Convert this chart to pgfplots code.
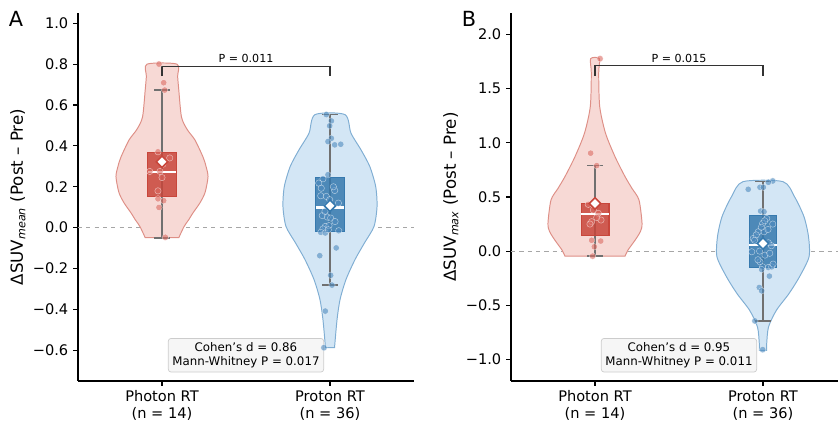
\documentclass[border=0pt]{standalone}
\usepackage{fontspec}
\setmainfont{DejaVu Sans}
\usepackage{pgfplots}
\pgfplotsset{compat=1.18}

\definecolor{phfill}{HTML}{F7D9D5}
\definecolor{phedge}{HTML}{DE8F86}
\definecolor{phbox}{HTML}{C8463B}
\definecolor{phpt}{HTML}{DB6B63}
\definecolor{prfill}{HTML}{D3E6F5}
\definecolor{predge}{HTML}{80AED3}
\definecolor{prbox}{HTML}{3679AE}
\definecolor{prpt}{HTML}{4F8BBF}
\definecolor{whiskc}{HTML}{707070}

\pgfplotsset{
  panel/.style={
    scale only axis, width=241.92pt, height=264.96pt, anchor=south west,
    xmin=-0.5, xmax=1.5,
    axis x line*=bottom, axis y line*=left,
    axis line style={line width=0.8pt},
    tick align=outside, major tick length=3.5pt,
    every tick/.style={black, line width=0.8pt},
    xtick={0,1},
    xticklabels={{Photon RT\\(n = 14)},{Proton RT\\(n = 36)}},
    xticklabel style={align=center, font=\fontsize{10.5}{12}\selectfont},
    yticklabel style={font=\fontsize{10.5}{12}\selectfont},
    ylabel style={font=\fontsize{12}{14}\selectfont, at={(axis description cs:-0.179,0.5)}, anchor=center},
    clip=false,
  },
  violin/.style={line width=0.7pt, smooth, tension=0.45},
  whisk/.style={whiskc, line width=1.2pt},
  pts/.style={only marks, mark=*, mark size=2.3pt,
    mark options={fill=#1, fill opacity=0.6, draw=white, draw opacity=0.6, line width=0.3pt}},
  meanmk/.style={only marks, mark=square*, mark size=2.9pt,
    mark options={rotate=45, fill=white, draw=#1, line width=1.1pt}},
}

\begin{document}
\begin{tikzpicture}
\path[use as bounding box] (0,0) rectangle (603.36pt,303.12pt);

% ---------------- panel A ----------------
\begin{axis}[panel, at={(56.16pt,28.8pt)},
  ymin=-0.75, ymax=1.05,
  ytick={-0.6,-0.4,-0.2,0,0.2,0.4,0.6,0.8,1.0},
  yticklabels={−0.6,−0.4,−0.2,0.0,0.2,0.4,0.6,0.8,1.0},
  ylabel={ΔSUV\textsubscript{\itshape mean} (Post – Pre)}]
\addplot[gray!70, dashed, line width=0.6pt] coordinates {(-0.5,0)(1.5,0)};
% violins
\addplot[violin, draw=phedge, fill=phfill] coordinates {
 (0.100,-0.049)(0.131,0.005)(0.160,0.040)(0.185,0.073)(0.225,0.120)(0.256,0.171)(0.274,0.249)
 (0.262,0.300)(0.244,0.346)(0.196,0.429)(0.150,0.480)(0.116,0.541)(0.100,0.673)(0.093,0.740)(0.089,0.800)
 (-0.089,0.800)(-0.093,0.740)(-0.100,0.673)(-0.116,0.541)(-0.150,0.480)(-0.196,0.429)(-0.244,0.346)(-0.262,0.300)
 (-0.274,0.249)(-0.256,0.171)(-0.225,0.120)(-0.185,0.073)(-0.160,0.040)(-0.131,0.005)(-0.100,-0.049)} -- cycle;
\addplot[violin, draw=predge, fill=prfill] coordinates {
 (1.027,-0.587)(1.042,-0.449)(1.060,-0.351)(1.095,-0.254)(1.149,-0.156)(1.205,-0.075)(1.262,0.006)
 (1.280,0.104)(1.272,0.201)(1.237,0.299)(1.185,0.380)(1.125,0.462)(1.089,0.553)
 (0.911,0.553)(0.875,0.462)(0.815,0.380)(0.763,0.299)(0.728,0.201)(0.720,0.104)(0.738,0.006)
 (0.795,-0.075)(0.851,-0.156)(0.905,-0.254)(0.940,-0.351)(0.958,-0.449)(0.973,-0.587)} -- cycle;
% whiskers
\addplot[whisk] coordinates {(0,-0.049)(0,0.673)};
\addplot[whisk] coordinates {(-0.045,0.673)(0.045,0.673)};
\addplot[whisk] coordinates {(-0.045,-0.049)(0.045,-0.049)};
\addplot[whisk] coordinates {(1,-0.281)(1,0.553)};
\addplot[whisk] coordinates {(0.955,0.553)(1.045,0.553)};
\addplot[whisk] coordinates {(0.955,-0.281)(1.045,-0.281)};
% points
\addplot[pts=phpt] coordinates {
 (-0.018,0.800)(0.010,0.709)(0.016,0.673)(-0.024,0.371)(0.046,0.341)(-0.073,0.275)(-0.012,0.275)
 (0.000,0.245)(-0.024,0.180)(-0.024,0.141)(0.010,0.132)(-0.018,0.099)(0.020,-0.047)(0.005,0.310)};
\addplot[pts=prpt] coordinates {
 (0.978,0.553)(1.008,0.522)(0.998,0.498)(1.008,0.437)(0.988,0.421)(1.028,0.405)(1.064,0.408)
 (0.988,0.259)(0.958,0.239)(0.933,0.218)(0.948,0.193)(1.028,0.182)(0.945,0.156)(0.978,0.153)
 (0.998,0.137)(0.984,0.104)(0.954,0.059)(0.984,0.052)(1.004,0.047)(0.972,0.006)(0.994,0.010)
 (0.958,-0.006)(0.945,-0.023)(0.972,-0.026)(1.052,-0.015)(0.939,-0.137)(1.037,-0.099)(1.004,-0.233)
 (1.012,-0.281)(0.972,-0.408)(0.964,-0.587)(1.030,0.030)(0.970,0.080)(1.050,0.120)(1.020,0.200)(0.990,-0.010)};
% boxes
\addplot[draw=phbox, fill=phbox, fill opacity=0.85, line width=0.8pt] coordinates {
 (-0.086,0.151)(0.086,0.151)(0.086,0.366)(-0.086,0.366)} -- cycle;
\addplot[draw=prbox, fill=prbox, fill opacity=0.85, line width=0.8pt] coordinates {
 (0.916,-0.018)(1.084,-0.018)(1.084,0.247)(0.916,0.247)} -- cycle;
\addplot[white, line width=1.6pt] coordinates {(-0.086,0.273)(0.086,0.273)};
\addplot[white, line width=1.6pt] coordinates {(0.916,0.099)(1.084,0.099)};
\addplot[meanmk=phbox] coordinates {(0,0.322)};
\addplot[meanmk=prbox] coordinates {(1,0.107)};
% bracket
\addplot[black!80, line width=0.8pt] coordinates {(0,0.741)(0,0.79)(1,0.79)(1,0.741)};
\node[anchor=south, font=\fontsize{8}{9}\selectfont, inner sep=2pt] at (axis cs:0.5,0.79) {P = 0.011};
\node[draw=gray!40, fill=gray!7, rounded corners=2pt, align=center, line width=0.5pt,
  font=\fontsize{8.5}{10}\selectfont, inner sep=3pt] at (rel axis cs:0.5,0.07)
  {Cohen's d = 0.86\\Mann-Whitney P = 0.017};
\end{axis}

% ---------------- panel B ----------------
\begin{axis}[panel, at={(367.92pt,28.8pt)},
  ymin=-1.2, ymax=2.2,
  ytick={-1,-0.5,0,0.5,1,1.5,2},
  yticklabels={−1.0,−0.5,0.0,0.5,1.0,1.5,2.0},
  ylabel={ΔSUV\textsubscript{\itshape max} (Post – Pre)}]
\addplot[gray!70, dashed, line width=0.6pt] coordinates {(-0.5,0)(1.5,0)};
\addplot[violin, draw=phedge, fill=phfill] coordinates {
 (0.179,-0.046)(0.196,0.009)(0.238,0.100)(0.270,0.180)(0.280,0.256)(0.262,0.472)(0.220,0.580)(0.179,0.688)
 (0.119,0.873)(0.0625,1.090)(0.028,1.336)(0.022,1.645)(0.026,1.778)
 (-0.026,1.778)(-0.022,1.645)(-0.028,1.336)(-0.0625,1.090)(-0.119,0.873)(-0.179,0.688)(-0.220,0.580)
 (-0.262,0.472)(-0.280,0.256)(-0.270,0.180)(-0.238,0.100)(-0.196,0.009)(-0.179,-0.046)} -- cycle;
\addplot[violin, draw=predge, fill=prfill] coordinates {
 (1.021,-0.917)(1.022,-0.855)(1.033,-0.700)(1.080,-0.546)(1.155,-0.392)(1.217,-0.238)(1.274,-0.053)
 (1.271,0.132)(1.244,0.318)(1.1875,0.503)(1.119,0.642)
 (0.881,0.642)(0.8125,0.503)(0.756,0.318)(0.729,0.132)(0.726,-0.053)(0.783,-0.238)(0.845,-0.392)
 (0.920,-0.546)(0.967,-0.700)(0.978,-0.855)(0.979,-0.917)} -- cycle;
\addplot[whisk] coordinates {(0,-0.046)(0,0.79)};
\addplot[whisk] coordinates {(-0.045,0.79)(0.045,0.79)};
\addplot[whisk] coordinates {(-0.045,-0.046)(0.045,-0.046)};
\addplot[whisk] coordinates {(1,-0.645)(1,0.642)};
\addplot[whisk] coordinates {(0.955,0.642)(1.045,0.642)};
\addplot[whisk] coordinates {(0.955,-0.645)(1.045,-0.645)};
\addplot[pts=phpt] coordinates {
 (0.030,1.778)(-0.026,0.905)(0.010,0.790)(-0.040,0.432)(-0.010,0.380)(0.020,0.349)(-0.020,0.272)
 (0.036,0.287)(-0.020,0.100)(0.034,0.093)(-0.004,0.040)(-0.014,-0.046)(0.010,0.310)(-0.030,0.250)};
\addplot[pts=prpt] coordinates {
 (0.912,0.571)(0.982,0.590)(1.002,0.590)(1.058,0.648)(1.032,0.636)(0.986,0.370)(1.006,0.364)
 (1.022,0.302)(0.998,0.256)(1.058,0.250)(0.972,0.179)(1.006,0.179)(0.942,0.117)(1.032,0.077)
 (0.933,-0.006)(1.012,-0.037)(0.982,-0.099)(0.998,-0.145)(1.032,-0.151)(1.052,-0.145)(0.992,-0.170)
 (1.038,-0.231)(0.978,-0.336)(0.992,-0.367)(0.952,-0.645)(0.998,-0.910)(1.030,0.200)(0.960,0.150)
 (1.050,0.050)(0.980,0.000)(1.040,-0.020)(0.950,0.100)(1.010,0.280)(0.970,-0.080)(1.060,-0.120)(0.990,0.220)};
\addplot[draw=phbox, fill=phbox, fill opacity=0.85, line width=0.8pt] coordinates {
 (-0.083,0.142)(0.083,0.142)(0.083,0.441)(-0.083,0.441)} -- cycle;
\addplot[draw=prbox, fill=prbox, fill opacity=0.85, line width=0.8pt] coordinates {
 (0.918,-0.154)(1.082,-0.154)(1.082,0.333)(0.918,0.333)} -- cycle;
\addplot[white, line width=1.6pt] coordinates {(-0.083,0.340)(0.083,0.340)};
\addplot[white, line width=1.6pt] coordinates {(0.918,0.056)(1.082,0.056)};
\addplot[meanmk=phbox] coordinates {(0,0.440)};
\addplot[meanmk=prbox] coordinates {(1,0.071)};
\addplot[black!80, line width=0.8pt] coordinates {(0,1.62)(0,1.713)(1,1.713)(1,1.62)};
\node[anchor=south, font=\fontsize{8}{9}\selectfont, inner sep=2pt] at (axis cs:0.5,1.713) {P = 0.015};
\node[draw=gray!40, fill=gray!7, rounded corners=2pt, align=center, line width=0.5pt,
  font=\fontsize{8.5}{10}\selectfont, inner sep=3pt] at (rel axis cs:0.5,0.07)
  {Cohen's d = 0.95\\Mann-Whitney P = 0.011};
\end{axis}

\node[font=\fontsize{15}{18}\selectfont] at (11.5pt,289.4pt) {A};
\node[font=\fontsize{15}{18}\selectfont] at (337.7pt,289.4pt) {B};
\end{tikzpicture}
\end{document}
